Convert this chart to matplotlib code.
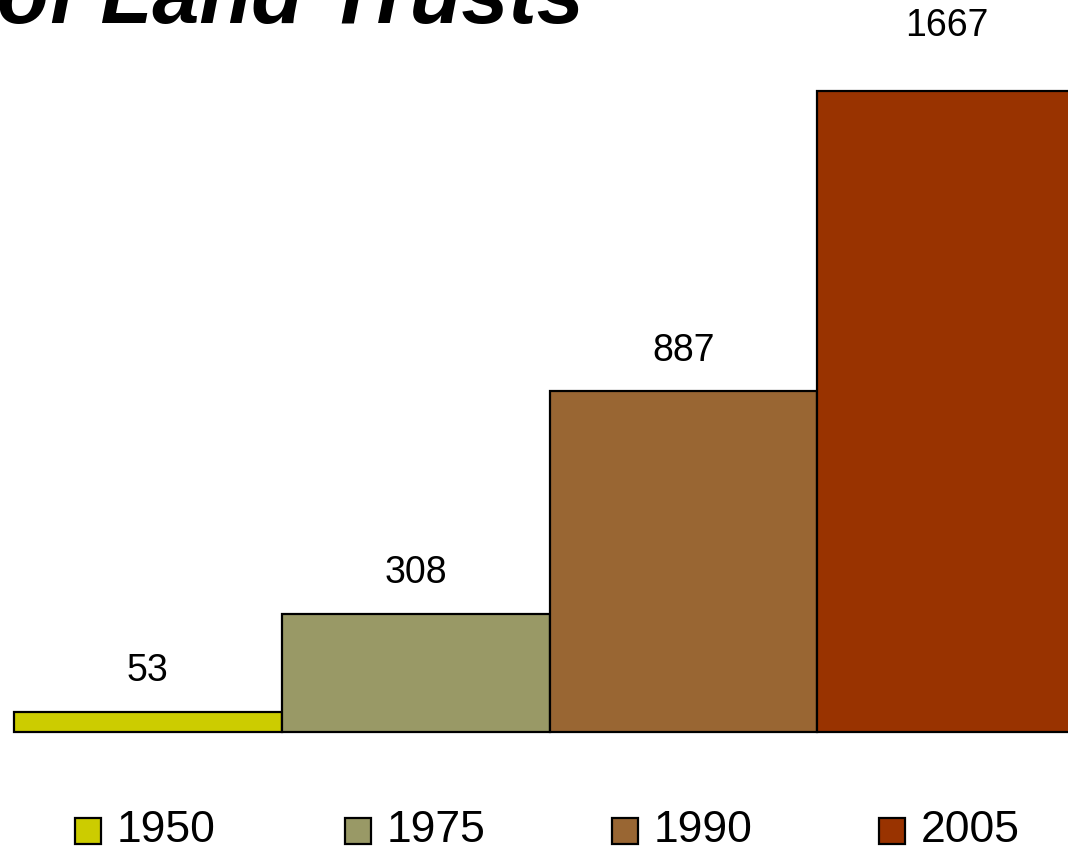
import matplotlib
matplotlib.use("Agg")
import matplotlib.pyplot as plt
from matplotlib.patches import Rectangle
from matplotlib.transforms import blended_transform_factory

plt.rcParams['font.family'] = ['Liberation Sans', 'DejaVu Sans']

years = ["1950", "1975", "1990", "2005"]
counts = [53, 308, 887, 1667]
colors = ["#CCCC00", "#999966", "#996633", "#993300"]
title = "of Land Trusts"

W, H = 1068, 852
fig = plt.figure(figsize=(W / 100, H / 100), dpi=100)
fig.patch.set_facecolor("white")

left_px, right_px = 14, 1085
base_px, top_px = 732, 91
ax = fig.add_axes([left_px / W, (H - base_px) / H,
                   (right_px - left_px) / W, (base_px - top_px) / H])
x = list(range(len(years)))
bars = ax.bar(x, counts, width=1.0, color=colors, edgecolor="black", linewidth=1.6)
ax.set_xlim(-0.5, len(years) - 0.5)
ax.set_ylim(0, max(counts))
ax.axis("off")
for b in bars:
    b.set_clip_on(False)

top_tr = blended_transform_factory(ax.transData, fig.transFigure)
for xi, v in zip(x, counts):
    if v == max(counts):
        # tallest label is pinned near the top of the slide
        ax.text(xi - 0.015, (H - 26) / H, str(v), transform=top_tr,
                ha="center", va="center", fontsize=27, clip_on=False)
    else:
        ax.annotate(str(v), (xi, v), xytext=(0, 29), textcoords="offset points",
                    ha="center", va="center", fontsize=27, clip_on=False)

fig.text(-3 / W, (H - 23) / H, title, fontsize=61, fontweight="bold",
         fontstyle="italic", ha="left", va="baseline")

# legend
sq = 26
leg_x = [75, 345, 612, 879]
cy = 831
for lx, yr, c in zip(leg_x, years, colors):
    fig.add_artist(Rectangle((lx / W, (H - cy - sq / 2) / H), sq / W, sq / H,
                             transform=fig.transFigure, facecolor=c,
                             edgecolor="black", linewidth=1.6))
    fig.text((lx + sq + 16) / W, (H - cy) / H, yr, fontsize=32,
             ha="left", va="center")

fig.savefig("out.png", dpi=100)
